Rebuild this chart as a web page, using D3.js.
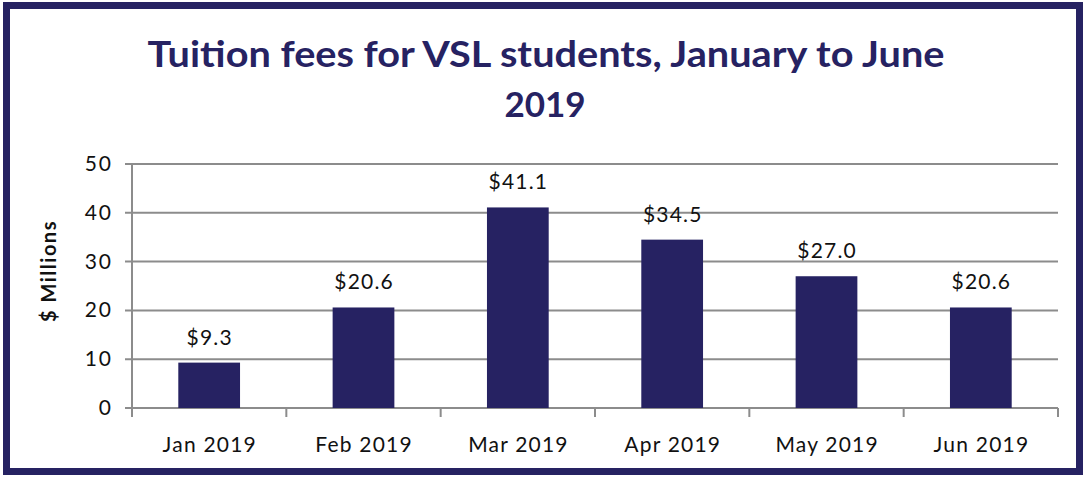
<!DOCTYPE html>
<html>
<head>
<meta charset="utf-8">
<script src="https://cdn.jsdelivr.net/npm/d3@7"></script>
<style>
  body { margin: 0; background: #fff; }
  svg text { font-family: Lato, "Open Sans", sans-serif; }
</style>
</head>
<body>
<div id="graphicContainer"></div>
<script>
const months = ["Jan 2019", "Feb 2019", "Mar 2019", "Apr 2019", "May 2019", "Jun 2019"]
const fees = [9.3, 20.6, 41.1, 34.5, 27.0, 20.6]
const yTicks = [0, 10, 20, 30, 40, 50]
const titleLines = ["Tuition fees for VSL students, January to June", "2019"]

const width = 1088, height = 477
const navy = "#262262", grid = "#8c8c8c"
const margin = { left: 132, right: 30, top: 164, bottom: 69 }

const svg = d3.select("#graphicContainer").append("svg")
  .attr("width", width)
  .attr("height", height)

// outer frame
svg.append("rect")
  .attr("x", 6.5).attr("y", 5.5)
  .attr("width", 1073).attr("height", 466)
  .attr("fill", "#fff")
  .attr("stroke", navy)
  .attr("stroke-width", 7)

svg.append("text")
  .attr("x", 546).attr("y", 67)
  .attr("text-anchor", "middle")
  .attr("fill", navy)
  .style("font-size", "37px")
  .style("font-weight", "bold")
  .attr("textLength", 797)
  .attr("lengthAdjust", "spacingAndGlyphs")
  .text(titleLines[0])

svg.append("text")
  .attr("x", 545).attr("y", 117)
  .attr("text-anchor", "middle")
  .attr("fill", navy)
  .style("font-size", "35px")
  .style("font-weight", "bold")
  .text(titleLines[1])

const x = d3.scaleBand()
  .domain(months)
  .range([margin.left, width - margin.right])
  .paddingInner(0.6)
  .paddingOuter(0.3)

const xb = d3.scaleBand().domain(months).range([margin.left, width - margin.right])

const y = d3.scaleLinear()
  .domain([0, 50])
  .range([height - margin.bottom, margin.top])

const g = svg.append("g")
  .style("letter-spacing", "1.2px")

// gridlines + y ticks
g.append("g")
  .selectAll("line")
  .data(yTicks)
  .join("line")
  .attr("x1", margin.left - 7)
  .attr("x2", width - margin.right)
  .attr("y1", d => y(d))
  .attr("y2", d => y(d))
  .attr("stroke", grid)
  .attr("stroke-width", 2)

g.append("g")
  .selectAll("text")
  .data(yTicks)
  .join("text")
  .attr("x", 113)
  .attr("y", d => y(d) + 7)
  .attr("text-anchor", "end")
  .attr("fill", "#111")
  .style("font-size", "21px")
  .style("letter-spacing", "2px")
  .text(d => d)

// y axis line
g.append("line")
  .attr("x1", margin.left).attr("x2", margin.left)
  .attr("y1", y(50)).attr("y2", y(0) + 9)
  .attr("stroke", grid).attr("stroke-width", 2)

// category ticks
g.append("g")
  .selectAll("line")
  .data(months)
  .join("line")
  .attr("x1", d => xb(d) + xb.bandwidth())
  .attr("x2", d => xb(d) + xb.bandwidth())
  .attr("y1", y(0))
  .attr("y2", y(0) + 9)
  .attr("stroke", grid).attr("stroke-width", 2)

// bars
g.append("g")
  .selectAll("rect")
  .data(months)
  .join("rect")
  .attr("x", d => x(d))
  .attr("width", x.bandwidth())
  .attr("y", (d, i) => y(fees[i]))
  .attr("height", (d, i) => y(0) - y(fees[i]))
  .attr("fill", navy)

// value labels
g.append("g")
  .selectAll("text")
  .data(months)
  .join("text")
  .attr("x", d => x(d) + x.bandwidth() / 2 + 0.6)
  .attr("y", (d, i) => y(fees[i]) - 18)
  .attr("text-anchor", "middle")
  .attr("fill", "#111")
  .style("font-size", "21px")
  .text((d, i) => "$" + d3.format(".1f")(fees[i]))

// x labels
g.append("g")
  .selectAll("text")
  .data(months)
  .join("text")
  .attr("x", d => xb(d) + xb.bandwidth() / 2 + 0.6)
  .attr("y", 452)
  .attr("text-anchor", "middle")
  .attr("fill", "#111")
  .style("font-size", "21px")
  .text(d => d)

svg.append("text")
  .attr("transform", "translate(56,271) rotate(-90)")
  .attr("text-anchor", "middle")
  .attr("fill", "#111")
  .style("font-size", "20px")
  .style("font-weight", "bold")
  .style("letter-spacing", "1.5px")
  .text("$ Millions")
</script>
</body>
</html>
